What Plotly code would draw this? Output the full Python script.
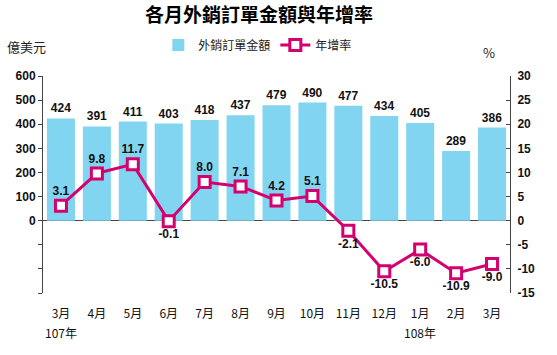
import plotly.graph_objects as go

months = ["3月", "4月", "5月", "6月", "7月", "8月", "9月", "10月", "11月", "12月", "1月", "2月", "3月"]
orders = [424, 391, 411, 403, 418, 437, 479, 490, 477, 434, 405, 289, 386]
growth = [3.1, 9.8, 11.7, -0.1, 8.0, 7.1, 4.2, 5.1, -2.1, -10.5, -6.0, -10.9, -9.0]
growth_pos = ["top center", "top center", "top center", "bottom center", "top center", "top center",
              "top center", "top center", "bottom center", "bottom center", "bottom center",
              "bottom center", "bottom center"]
left_ticks = [600, 500, 400, 300, 200, 100, 0, -100, -200, -300]
right_ticks = [30, 25, 20, 15, 10, 5, 0, -5, -10, -15]

x = list(range(len(months)))
FONT = "Liberation Sans, Arial, sans-serif"
CJK = "Noto Sans CJK TC, Noto Sans CJK SC, sans-serif"

fig = go.Figure()
fig.add_trace(go.Bar(
    x=x, y=orders, name="外銷訂單金額",
    marker=dict(color="#82d5f0", line=dict(width=0)),
    text=[str(v) for v in orders], textposition="outside",
    textfont=dict(family=FONT, size=12, color="#111", weight="bold"),
    cliponaxis=False,
))
fig.add_trace(go.Scatter(
    x=x, y=growth, name="年增率", yaxis="y2", mode="lines+markers+text",
    line=dict(color="#d4006e", width=3),
    marker=dict(symbol="square", size=11, color="white", line=dict(color="#d4006e", width=3)),
    text=[f"{v:.1f}" for v in growth], textposition=growth_pos,
    textfont=dict(family=FONT, size=12, color="#111", weight="bold"),
    cliponaxis=False,
))

fig.update_layout(
    width=557, height=355,
    margin=dict(l=43, r=47, t=76, b=62, autoexpand=False),
    paper_bgcolor="white", plot_bgcolor="white",
    bargap=0.22,
    showlegend=True,
    legend=dict(orientation="h", x=0.46, xanchor="center", y=1.143, yanchor="middle",
                font=dict(family=CJK, size=12, color="#222"), traceorder="normal"),
    title=dict(text="<b>各月外銷訂單金額與年增率</b>", x=0.465, xanchor="center", y=0.958, yanchor="middle",
               font=dict(family=CJK, size=19, color="#000")),
    xaxis=dict(tickvals=x, ticktext=months, range=[-0.5, 12.5], showline=False, ticks="",
               ticklabelstandoff=12,
               tickfont=dict(family=CJK, size=12, color="#111"), showgrid=False, zeroline=False),
    yaxis=dict(range=[-300, 600], tickvals=left_ticks,
               ticktext=[str(v) if v >= 0 else "" for v in left_ticks],
               showline=True, linecolor="#444", linewidth=1, ticks="outside", ticklen=4, tickcolor="#444",
               showgrid=False, zeroline=True, zerolinecolor="#444", zerolinewidth=1,
               tickfont=dict(family=FONT, size=12, color="#111", weight="bold")),
    yaxis2=dict(range=[-15, 30], tickvals=right_ticks, ticktext=[str(v) for v in right_ticks],
                overlaying="y", side="right", showline=True, linecolor="#444", linewidth=1,
                ticks="inside", ticklen=4, tickcolor="#444", showgrid=False, zeroline=False,
                ticklabelstandoff=4,
                tickfont=dict(family=FONT, size=12, color="#111", weight="bold")),
)

fig.add_annotation(text="億美元", x=-38/467, xref="paper", xanchor="left", y=1.134, yref="paper", yanchor="middle",
                   showarrow=False, font=dict(family=CJK, size=13, color="#222"))
fig.add_annotation(text="%", x=(489-43)/467, xref="paper", xanchor="center", y=1.11, yref="paper", yanchor="middle",
                   showarrow=False, font=dict(family=CJK, size=13, color="#222"))
fig.add_annotation(text="107年", x=0, xref="x", y=-0.18, yref="paper", yanchor="middle",
                   showarrow=False, font=dict(family=CJK, size=12, color="#111"))
fig.add_annotation(text="108年", x=10, xref="x", y=-0.18, yref="paper", yanchor="middle",
                   showarrow=False, font=dict(family=CJK, size=12, color="#111"))

fig.write_html("out.html", post_script="document.body.style.margin='0';",
               config={"displayModeBar": False})
